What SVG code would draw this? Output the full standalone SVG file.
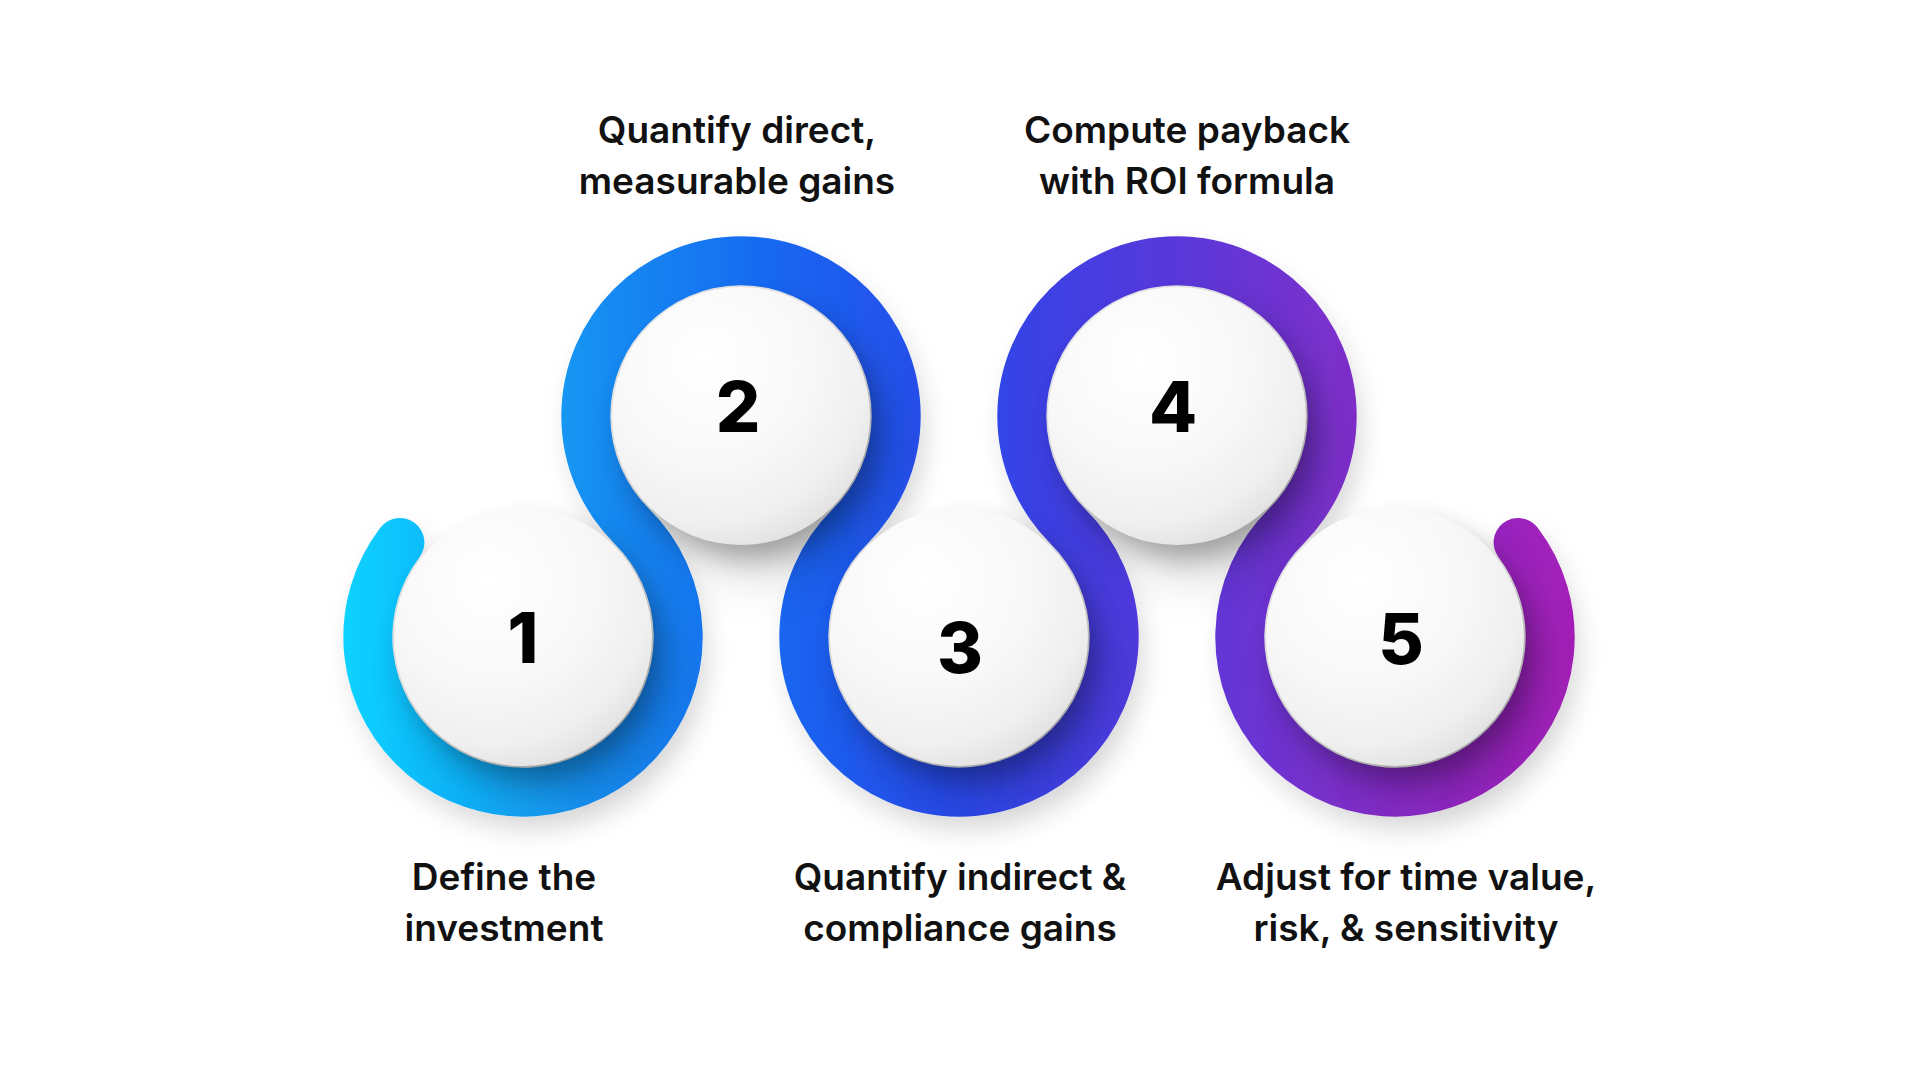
<svg xmlns="http://www.w3.org/2000/svg" width="1920" height="1080" viewBox="0 0 1920 1080">
  <defs>
    <linearGradient id="ringGrad" gradientUnits="userSpaceOnUse" x1="345" y1="0" x2="1575" y2="0">
      <stop offset="0" stop-color="#0fd2ff"/>
      <stop offset="0.2" stop-color="#138ff2"/>
      <stop offset="0.37" stop-color="#1a62f0"/>
      <stop offset="0.5" stop-color="#2a48e8"/>
      <stop offset="0.62" stop-color="#4a3ce0"/>
      <stop offset="0.8" stop-color="#7a30cc"/>
      <stop offset="1" stop-color="#a51fb8"/>
    </linearGradient>
    <radialGradient id="ballGrad" cx="0.38" cy="0.3" r="0.8" fx="0.36" fy="0.28">
      <stop offset="0" stop-color="#ffffff"/>
      <stop offset="0.5" stop-color="#f8f8f8"/>
      <stop offset="0.78" stop-color="#efefef"/>
      <stop offset="0.92" stop-color="#e2e2e2"/>
      <stop offset="1" stop-color="#d6d6d6"/>
    </radialGradient>
    <filter id="ballShadow" x="-50%" y="-50%" width="200%" height="200%">
      <feGaussianBlur stdDeviation="14"/>
    </filter>
    <filter id="ballShadowWide" x="-50%" y="-50%" width="200%" height="200%">
      <feGaussianBlur stdDeviation="26"/>
    </filter>
    <filter id="ringShadow" x="-10%" y="-20%" width="120%" height="140%">
      <feDropShadow dx="6" dy="14" stdDeviation="12" flood-color="#000" flood-opacity="0.12"/>
    </filter>
  </defs>
  <style>
    .ring { fill: none; stroke: url(#ringGrad); stroke-width: 49; stroke-linecap: round; }
    .ball { fill: url(#ballGrad); }
    .sh { fill: #000; opacity: 0.3; }
    .shw { fill: #000; opacity: 0.12; }
    .num { font-family: Inter, "Liberation Sans", sans-serif; font-weight: 800; font-size: 70px; fill: #000; text-anchor: middle; }
    .lbl { font-family: Inter, "Liberation Sans", sans-serif; font-weight: 600; font-size: 37px; fill: #111; text-anchor: middle; }
  </style>
  <rect width="1920" height="1080" fill="#ffffff"/>

  <g id="connectors">
    <path class="ring" filter="url(#ringShadow)" d="M 399.9 542.5 A 155.2 155.2 0 1 0 632 526.5 A 155.2 155.2 0 1 1 850 526.5 A 155.2 155.2 0 1 0 1068 526.5 A 155.2 155.2 0 1 1 1286 526.5 A 155.2 155.2 0 1 0 1518.1 542.5"/>
  </g>

  <g id="node1">
    <circle class="shw" cx="545" cy="672" r="128" filter="url(#ballShadowWide)"/>
    <circle class="sh" cx="533" cy="653" r="126" filter="url(#ballShadow)"/>
    <circle class="ball" cx="523" cy="637" r="129"/>
    <text class="num" x="523" y="663">1</text>
    <text class="lbl" x="504" y="890">Define the</text>
    <text class="lbl" x="504" y="941">investment</text>
  </g>

  <g id="node2">
    <circle class="shw" cx="763" cy="451" r="128" filter="url(#ballShadowWide)"/>
    <circle class="sh" cx="751" cy="432" r="126" filter="url(#ballShadow)"/>
    <circle class="ball" cx="741" cy="416" r="129"/>
    <text class="num" x="738" y="432">2</text>
    <text class="lbl" x="737" y="143">Quantify direct,</text>
    <text class="lbl" x="737" y="194">measurable gains</text>
  </g>

  <g id="node3">
    <circle class="shw" cx="981" cy="672" r="128" filter="url(#ballShadowWide)"/>
    <circle class="sh" cx="969" cy="653" r="126" filter="url(#ballShadow)"/>
    <circle class="ball" cx="959" cy="637" r="129"/>
    <text class="num" x="960" y="673">3</text>
    <text class="lbl" x="960" y="890">Quantify indirect &amp;</text>
    <text class="lbl" x="960" y="941">compliance gains</text>
  </g>

  <g id="node4">
    <circle class="shw" cx="1199" cy="451" r="128" filter="url(#ballShadowWide)"/>
    <circle class="sh" cx="1187" cy="432" r="126" filter="url(#ballShadow)"/>
    <circle class="ball" cx="1177" cy="416" r="129"/>
    <text class="num" x="1173" y="432">4</text>
    <text class="lbl" x="1187" y="143">Compute payback</text>
    <text class="lbl" x="1187" y="194">with ROI formula</text>
  </g>

  <g id="node5">
    <circle class="shw" cx="1417" cy="672" r="128" filter="url(#ballShadowWide)"/>
    <circle class="sh" cx="1405" cy="653" r="126" filter="url(#ballShadow)"/>
    <circle class="ball" cx="1395" cy="637" r="129"/>
    <text class="num" x="1401" y="664">5</text>
    <text class="lbl" x="1406" y="890">Adjust for time value,</text>
    <text class="lbl" x="1406" y="941">risk, &amp; sensitivity</text>
  </g>
</svg>
